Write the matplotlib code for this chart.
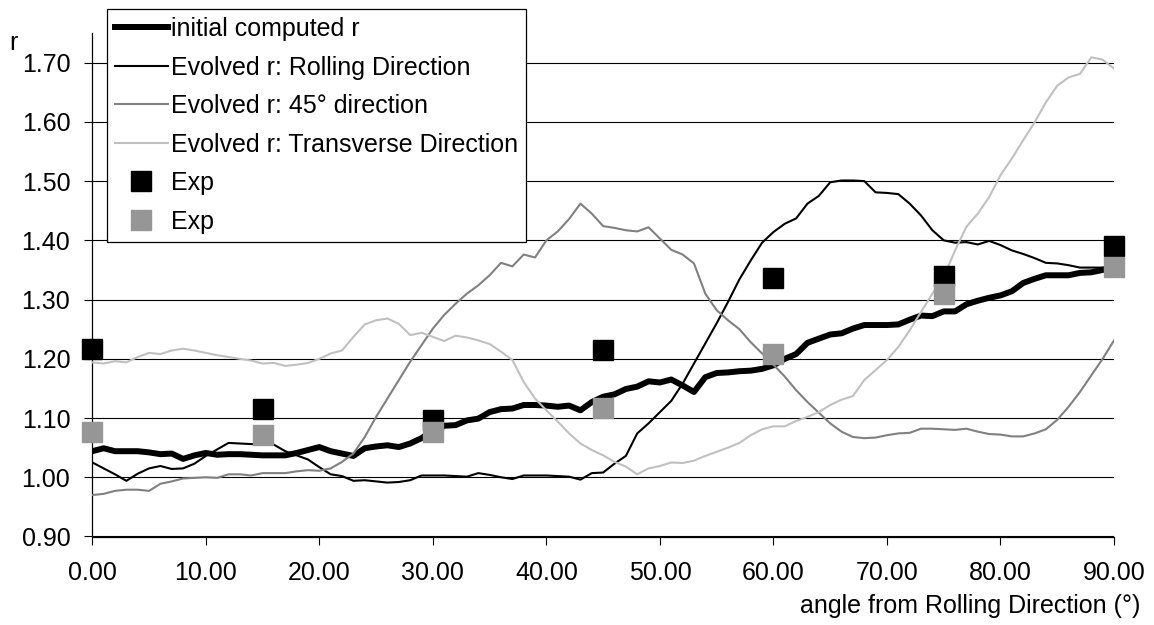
import matplotlib
matplotlib.use("Agg")
import matplotlib.pyplot as plt
import numpy as np

plt.rcParams['font.family'] = ['Liberation Sans', 'DejaVu Sans']

angles = list(range(0, 91))

initial_r = [1.044, 1.049, 1.044, 1.044, 1.044, 1.042, 1.039, 1.040, 1.031, 1.037,
             1.041, 1.038, 1.039, 1.039, 1.038, 1.037, 1.037, 1.037, 1.041, 1.046,
             1.051, 1.044, 1.040, 1.036, 1.049, 1.052, 1.054, 1.051, 1.057, 1.066,
             1.079, 1.087, 1.088, 1.096, 1.099, 1.110, 1.115, 1.116, 1.122, 1.122,
             1.121, 1.119, 1.121, 1.113, 1.127, 1.136, 1.140, 1.149, 1.153, 1.162,
             1.160, 1.165, 1.155, 1.144, 1.169, 1.176, 1.177, 1.179, 1.180, 1.183,
             1.189, 1.200, 1.208, 1.227, 1.234, 1.241, 1.243, 1.251, 1.257, 1.257,
             1.257, 1.258, 1.266, 1.273, 1.272, 1.280, 1.280, 1.292, 1.298, 1.303,
             1.307, 1.314, 1.328, 1.335, 1.341, 1.341, 1.341, 1.345, 1.346, 1.350,
             1.355]

rolling_r = [1.025, 1.015, 1.005, 0.994, 1.006, 1.015, 1.019, 1.014, 1.015, 1.023,
             1.036, 1.047, 1.058, 1.057, 1.056, 1.056, 1.055, 1.044, 1.037, 1.030,
             1.017, 1.005, 1.002, 0.994, 0.995, 0.993, 0.991, 0.992, 0.995, 1.003,
             1.003, 1.003, 1.002, 1.001, 1.007, 1.004, 1.000, 0.997, 1.003, 1.003,
             1.003, 1.002, 1.001, 0.996, 1.007, 1.008, 1.023, 1.036, 1.074, 1.091,
             1.110, 1.129, 1.158, 1.192, 1.226, 1.260, 1.296, 1.334, 1.366, 1.396,
             1.414, 1.428, 1.437, 1.462, 1.475, 1.498, 1.501, 1.501, 1.500, 1.481,
             1.480, 1.478, 1.462, 1.442, 1.417, 1.400, 1.396, 1.397, 1.393, 1.399,
             1.392, 1.383, 1.377, 1.370, 1.362, 1.361, 1.358, 1.354, 1.354, 1.354,
             1.355]

diag_r = [0.970, 0.972, 0.977, 0.979, 0.979, 0.977, 0.989, 0.993, 0.998, 0.999,
          1.000, 0.999, 1.005, 1.005, 1.003, 1.007, 1.007, 1.007, 1.010, 1.012,
          1.011, 1.015, 1.026, 1.040, 1.068, 1.102, 1.133, 1.164, 1.195, 1.223,
          1.251, 1.274, 1.293, 1.310, 1.324, 1.341, 1.362, 1.356, 1.376, 1.371,
          1.400, 1.415, 1.436, 1.462, 1.445, 1.424, 1.421, 1.417, 1.415, 1.422,
          1.403, 1.384, 1.376, 1.361, 1.310, 1.282, 1.265, 1.250, 1.228, 1.209,
          1.190, 1.170, 1.147, 1.127, 1.109, 1.091, 1.077, 1.068, 1.066, 1.067,
          1.071, 1.074, 1.075, 1.082, 1.082, 1.081, 1.080, 1.082, 1.077, 1.073,
          1.072, 1.069, 1.069, 1.074, 1.081, 1.097, 1.119, 1.144, 1.172, 1.200,
          1.231]

transverse_r = [1.194, 1.192, 1.196, 1.194, 1.203, 1.210, 1.208, 1.214, 1.217, 1.214,
                1.210, 1.206, 1.203, 1.200, 1.197, 1.192, 1.193, 1.188, 1.190, 1.193,
                1.200, 1.209, 1.214, 1.237, 1.258, 1.265, 1.268, 1.259, 1.240, 1.244,
                1.237, 1.230, 1.239, 1.236, 1.231, 1.225, 1.212, 1.198, 1.161, 1.133,
                1.113, 1.094, 1.074, 1.057, 1.046, 1.037, 1.026, 1.018, 1.005, 1.015,
                1.019, 1.025, 1.024, 1.028, 1.036, 1.043, 1.050, 1.058, 1.071, 1.081,
                1.086, 1.086, 1.095, 1.102, 1.110, 1.122, 1.131, 1.137, 1.164, 1.181,
                1.198, 1.220, 1.248, 1.279, 1.310, 1.338, 1.383, 1.423, 1.445, 1.473,
                1.510, 1.538, 1.569, 1.599, 1.633, 1.661, 1.675, 1.681, 1.709, 1.705,
                1.690]

exp_angles = [0, 15, 30, 45, 60, 75, 90]
exp1_r = [1.217, 1.116, 1.097, 1.215, 1.337, 1.339, 1.391]
exp2_r = [1.076, 1.071, 1.077, 1.117, 1.208, 1.309, 1.355]

W, H = 1154, 625
fig = plt.figure(figsize=(W / 100, H / 100), dpi=100)
ax = fig.add_axes([92.3 / W, (H - 536.5) / H, (1114 - 92.3) / W, (536.5 - 33) / H])

FS = 18
ax.plot(angles, initial_r, color='black', lw=4.3, solid_joinstyle='round',
        label='initial computed r', zorder=3)
ax.plot(angles, rolling_r, color='black', lw=1.5, solid_joinstyle='round',
        label='Evolved r: Rolling Direction', zorder=4)
ax.plot(angles, diag_r, color='#808080', lw=1.5, solid_joinstyle='round',
        label='Evolved r: 45° direction', zorder=5)
ax.plot(angles, transverse_r, color='#c0c0c0', lw=1.5, solid_joinstyle='round',
        label='Evolved r: Transverse Direction', zorder=6)
ax.plot(exp_angles, exp1_r, linestyle='none', marker='s', ms=13.7, color='black',
        mec='black', label='Exp', zorder=7, clip_on=False)
ax.plot(exp_angles, exp2_r, linestyle='none', marker='s', ms=13.7, color='#969696',
        mec='#969696', label='Exp', zorder=8, clip_on=False)

ax.set_xlim(0, 90)
ax.set_ylim(0.90, 1.75)
ax.set_xticks(np.arange(0, 91, 10))
ax.set_xticklabels([f"{v:.2f}" for v in np.arange(0, 91, 10)])
yt = np.round(np.arange(0.90, 1.701, 0.10), 2)
ax.set_yticks(yt)
ax.set_yticklabels([f"{v:.2f}" for v in yt])
ax.grid(axis='y', color='black', lw=0.8, zorder=1)
ax.set_axisbelow(True)

for s in ['top', 'right']:
    ax.spines[s].set_visible(False)
for s in ['left', 'bottom']:
    ax.spines[s].set_color('black')
    ax.spines[s].set_linewidth(0.9)

ax.tick_params(axis='both', direction='out', length=5.8, width=0.8, color='black',
               labelsize=FS, labelcolor='black')
ax.tick_params(axis='y', pad=10)
ax.tick_params(axis='x', pad=12)

fig.text(1140 / W, (H - 613) / H, 'angle from Rolling Direction (°)', ha='right',
         va='baseline', fontsize=FS)
fig.text(9 / W, (H - 50) / H, 'r', ha='left', va='baseline', fontsize=FS)

leg = fig.legend(loc='upper left', bbox_to_anchor=(107 / W, (H - 9) / H),
                 bbox_transform=fig.transFigure, fontsize=FS, frameon=True,
                 fancybox=False, shadow=False, borderpad=0.32, labelspacing=0.58,
                 handlelength=2.1, handletextpad=0.15, borderaxespad=0.0,
                 edgecolor='black', framealpha=1.0)
leg.get_frame().set_linewidth(0.9)

fig.savefig('out.png', dpi=100)
